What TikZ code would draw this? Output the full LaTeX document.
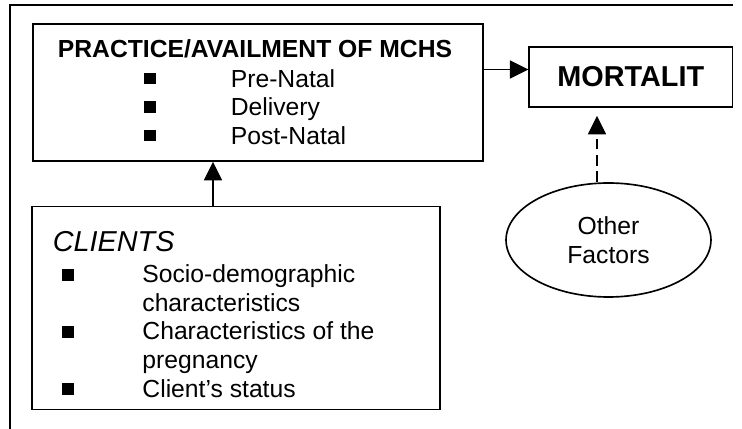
\documentclass[tikz,border=0pt]{standalone}
\usepackage{fontspec}
\setmainfont{Liberation Sans}
\usepackage{xcolor}
\usetikzlibrary{arrows.meta,positioning,shapes.geometric}
\definecolor{fwedge}{RGB}{0,0,0}
\newcommand{\sqbul}[1][1.4pt]{\rule[#1]{5.6pt}{5.6pt}}
\newcommand{\fwtext}{\fontsize{12}{13.8}\selectfont}
\newcommand{\fwbig}{\fontsize{14}{16}\selectfont}
\tikzset{
  fwbox/.style={
    draw=fwedge, line width=0.8pt, inner sep=0pt, font=\fwtext
  },
  fwitem/.style={inner sep=0pt, anchor=base west, font=\fwtext},
  arr/.style={-{Triangle[length=9pt,width=8.8pt]}, draw=fwedge, line width=0.6pt},
  darr/.style={arr, dash pattern=on 5.2pt off 2.8pt},
  frame/.style={draw=fwedge, line width=0.75pt}
}
\begin{document}
\begin{tikzpicture}[x=0.486pt, y=-0.486pt]
  \useasboundingbox (0,0) rectangle (742,429);
  % outer frame, open at right and bottom
  \draw[frame] (10,429) -- (10,5) -- (733,5);

  % practice box
  \node[fwbox, minimum width=218.7pt, minimum height=66.6pt] (prac) at (258.3,92.5) {};
  \node[fwitem, anchor=base, font=\fwtext\bfseries] (pracT) at (255,57.3)
    {PRACTICE/AVAILMENT OF MCHS};
  \foreach \lbl [count=\i] in {Pre-Natal,Delivery,Post-Natal}
    \node[fwitem] (prac\i) at (144,{87.3+28.4*(\i-1)}) {\makebox[42pt][l]{\sqbul}\lbl};

  % outcome
  \node[fwbox, minimum width=98.7pt, minimum height=29.2pt, font=\fwbig\bfseries]
    (mort) at (630.8,77) {MORTALIT};

  % clients box
  \node[fwbox, minimum width=198pt, minimum height=98.7pt] (cli) at (236,308) {};
  \node[fwitem, font=\fwbig\itshape] (cliT) at (52.5,251.7) {CLIENTS};
  \node[fwitem] (cli1) at (62,283) {\makebox[38.9pt][l]{\sqbul[1.2pt]}Socio-demographic};
  \node[fwitem] (cli1b) at (142,311.5) {characteristics};
  \node[fwitem] (cli2) at (62,340) {\makebox[38.9pt][l]{\sqbul[1.2pt]}Characteristics of the};
  \node[fwitem] (cli2b) at (142,368.5) {pregnancy};
  \node[fwitem] (cli3) at (62,397) {\makebox[38.9pt][l]{\sqbul[1.2pt]}Client’s status};

  % other factors
  \node[ellipse, draw=fwedge, line width=0.8pt, minimum width=99.6pt, minimum height=55.4pt,
    inner sep=0pt, align=center, font=\fwtext] (oth) at (608.5,240) {Other\\Factors};

  % connectors
  \coordinate (ctlY) at (0,69.5);
  \coordinate (upX) at (213,0);
  \coordinate (dashX) at (597,0);
  \draw[arr] (prac.east |- ctlY) -- (mort.west |- ctlY);
  \draw[arr] (cli.north -| upX) -- (prac.south -| upX);
  \draw[darr, shorten >=3.9pt] (oth.north -| dashX) -- (mort.south -| dashX);
\end{tikzpicture}
\end{document}
